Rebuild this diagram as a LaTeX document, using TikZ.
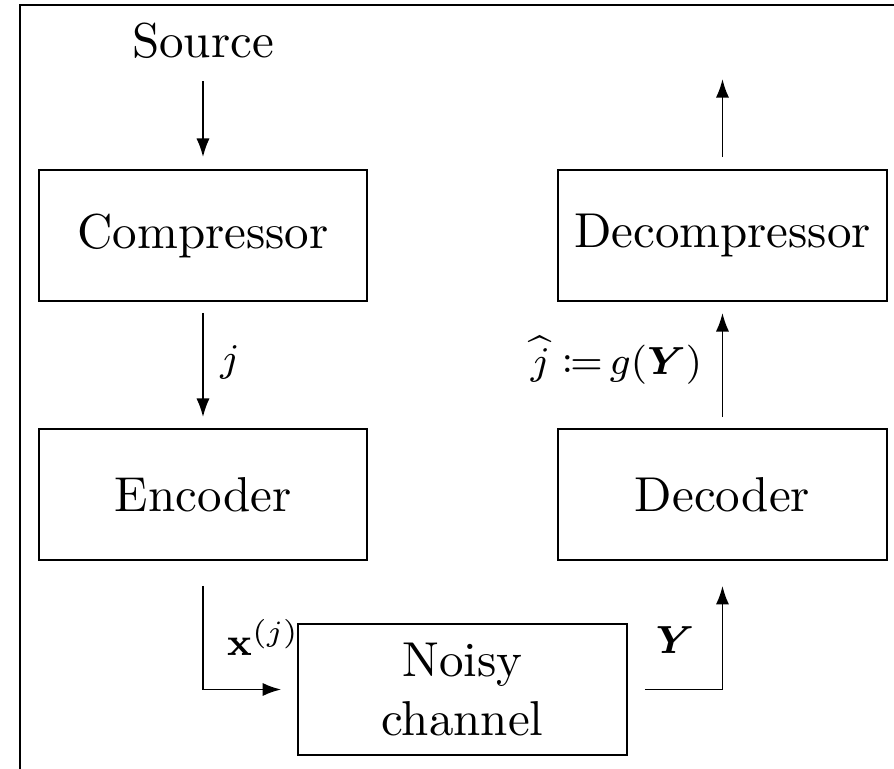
\documentclass[tikz,border=0pt]{standalone}
\usepackage{amsmath,mathtools}
\usetikzlibrary{arrows.meta}
\tikzset{
  block/.style={draw, line width=0.4pt, inner sep=0pt, minimum width=67pt, minimum height=26.7pt, align=center},
  flow/.style={line width=0.4pt, -{Latex[length=3.8pt,width=2.7pt]}},
  lbl/.style={inner sep=0pt, font=\footnotesize},
}
\begin{document}
\begin{tikzpicture}[x=0.2041pt, y=-0.2041pt]
  \useasboundingbox (0,0) rectangle (894,769);
  % frame
  \draw[line width=0.6pt] (20,769) -- (20,5) -- (894,5);

  % blocks
  \node[anchor=base, inner sep=0pt] (src) at (203,57) {Source};
  \node[block] (comp)  at (203,235.5) {Compressor};
  \node[block] (decomp) at (722.5,235.5) {Decompressor};
  \node[block] (enc)   at (203,494.5) {Encoder};
  \node[block] (dec)   at (722.5,494.5) {Decoder};
  \node[block] (chan)  at (462.5,689.5) {Noisy\\channel};
  \coordinate (out) at (722.5,79);

  % connectors
  \draw[flow, shorten <=4.5pt, shorten >=2.45pt] (src) -- (comp);
  \draw[flow, shorten <=2.45pt] (decomp) -- (out);
  \draw[flow, shorten <=2.25pt, shorten >=2.25pt] (comp) -- (enc);
  \draw[flow, shorten <=2.25pt, shorten >=2.25pt] (dec) -- (decomp);
  \draw[flow, shorten <=5.1pt, shorten >=3.3pt] (enc.south) |- (chan.west);
  \draw[flow, shorten <=3.5pt, shorten >=5.1pt] (chan.east) -| (dec.south);

  % labels
  \node[lbl, anchor=base] (lj) at (230,371) {$j$};
  \node[lbl, anchor=base east] (lg) at (703,374) {$\widehat{j}\;{\coloneqq}\,g(\boldsymbol{Y})$};
  \node[lbl, anchor=base west] (lx) at (226,655) {$\mathbf{x}^{(j)}$};
  \node[lbl, anchor=base] (ly) at (675,654) {$\boldsymbol{Y}$};
\end{tikzpicture}
\end{document}
